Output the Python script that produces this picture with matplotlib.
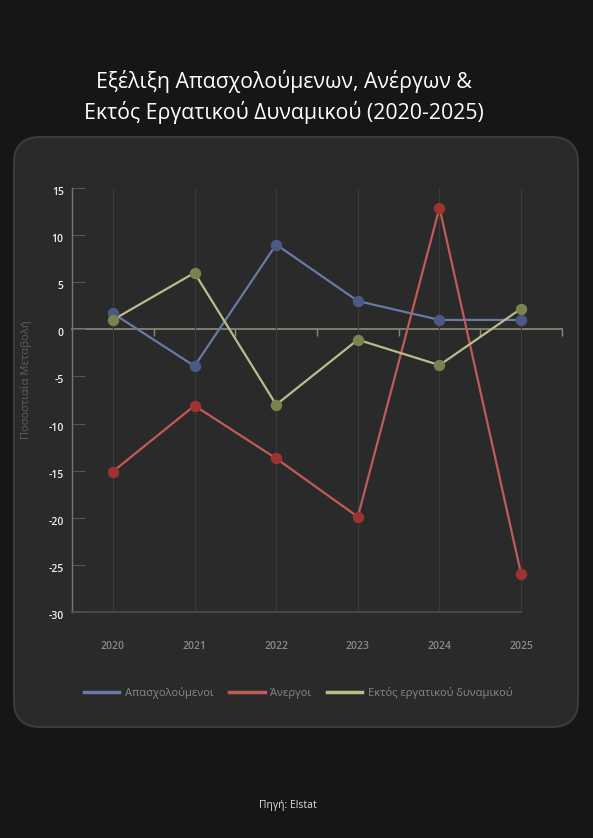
import matplotlib
matplotlib.use("Agg")
import matplotlib.pyplot as plt
from matplotlib.patches import FancyBboxPatch
from matplotlib.transforms import ScaledTranslation
import numpy as np

plt.rcParams['font.family'] = ['Open Sans', 'DejaVu Sans']
plt.rcParams['axes.unicode_minus'] = False

# data
years = ['2020', '2021', '2022', '2023', '2024', '2025']
employed = [1.7, -3.9, 9.0, 3.0, 1.0, 1.0]
unemployed = [-15.1, -8.1, -13.7, -19.9, 12.9, -26.0]
inactive = [1.0, 6.0, -8.0, -1.1, -3.8, 2.2]

series_names = ['Απασχολούμενοι', 'Άνεργοι', 'Εκτός εργατικού δυναμικού']
line_colors = ['#6a79a6', '#bf5c56', '#b9bd8a']
marker_colors = ['#4a5a82', '#9e3232', '#7c8150']

W, H = 593, 838
fig = plt.figure(figsize=(W / 100, H / 100), dpi=100)
fig.patch.set_facecolor('#161616')

# rounded card behind the chart
card = FancyBboxPatch((0.14, 1.11), 5.64, 5.90,
                      boxstyle="round,pad=0,rounding_size=0.26",
                      transform=fig.dpi_scale_trans,
                      facecolor='#2a2a2a', edgecolor='#3c3c3c', linewidth=1.5,
                      zorder=-5)
fig.patches.append(card)

def px(x0, y0, x1, y1):
    return [x0 / W, 1 - y1 / H, (x1 - x0) / W, (y1 - y0) / H]

ax = fig.add_axes(px(72, 188, 562, 612))
ax.set_facecolor('none')
ax.set_zorder(2)

x = np.arange(len(years))
for vals, lc, mc, name in zip([employed, unemployed, inactive],
                              line_colors, marker_colors, series_names):
    ax.plot(x, vals, color=lc, lw=1.6, zorder=3, label=name)
    ax.plot(x, vals, 'o', color=mc, ms=7.2, zorder=4)

ax.set_xlim(-0.5, len(years) - 0.5)
ax.set_ylim(-30, 15)
ax.set_yticks(np.arange(-30, 16, 5))
ax.set_xticks(x)
ax.set_xticklabels(years)

ax.grid(axis='x', color='#3a3a3a', lw=0.8, zorder=1)

for s in ['top', 'right']:
    ax.spines[s].set_visible(False)
ax.spines['left'].set_color('#77776a')
ax.spines['left'].set_linewidth(1.0)
ax.spines['bottom'].set_color('#4e4e4e')
ax.spines['bottom'].set_linewidth(1.2)
ax.spines['bottom'].set_bounds(-0.5, len(years) - 1)

ax.tick_params(axis='y', direction='in', length=9, width=0.8, color='#555555',
               labelcolor='#f0f0f0', labelsize=7.5, pad=6)
down = ScaledTranslation(0, -0.03, fig.dpi_scale_trans)
for lab in ax.get_yticklabels():
    lab.set_fontweight('semibold')
    lab.set_transform(lab.get_transform() + down)
ax.tick_params(axis='x', length=0, labelcolor='#8a8a8a', labelsize=7.5, pad=21)
for lab in ax.get_xticklabels():
    lab.set_fontweight('semibold')

# zero line with category band ticks
zero_ax = ax.secondary_xaxis(30 / 45)
zero_ax.set_xticks(np.arange(0.5, len(years), 1.0))
zero_ax.set_xticklabels([])
zero_ax.tick_params(direction='in', length=5, width=1.0, color='#8c8c76')
for s in zero_ax.spines.values():
    s.set_color('#8c8c76')
    s.set_linewidth(1.2)

ax.set_ylabel('Ποσοστιαία Μεταβολή', color='#5e5e5e', fontsize=8)
ax.yaxis.set_label_coords((32 - 72) / 490, (612 - 380) / 424)

leg = fig.legend(loc='center', bbox_to_anchor=(298 / W, 1 - 693 / H), ncol=3,
                 frameon=False, fontsize=8, handlelength=3.2, handletextpad=0.5,
                 columnspacing=1.4, labelcolor='#888888')
for h in leg.legend_handles:
    h.set_linewidth(2.5)

fig.text(284 / W, 1 - 97 / H,
         'Εξέλιξη Απασχολούμενων, Ανέργων &\nΕκτός Εργατικού Δυναμικού (2020-2025)',
         ha='center', va='center', color='white', fontsize=15.3, linespacing=1.45)
fig.text(288 / W, 1 - 805 / H, 'Πηγή: Elstat', ha='center', va='center',
         color='#dddddd', fontsize=7.5)

fig.savefig('out.png', dpi=100, facecolor=fig.get_facecolor())
